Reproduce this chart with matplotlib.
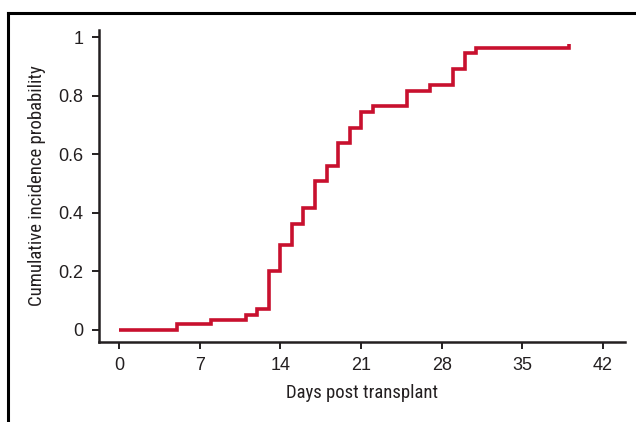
import matplotlib
matplotlib.use("Agg")
import matplotlib.pyplot as plt
from matplotlib import font_manager
from matplotlib.lines import Line2D

# Data (step changes in cumulative incidence)
days = [0, 5, 8, 11, 12, 13, 14, 15, 16, 17, 18, 19, 20, 21, 22, 25, 27, 29, 30, 31, 39]
cum_inc = [0.0, 0.019, 0.034, 0.052, 0.072, 0.200, 0.289, 0.362, 0.416, 0.510, 0.561,
           0.637, 0.690, 0.743, 0.765, 0.817, 0.835, 0.890, 0.945, 0.962, 0.976]
x_ticks = [0, 7, 14, 21, 28, 35, 42]
y_ticks = [0, 0.2, 0.4, 0.6, 0.8, 1.0]
y_ticklabels = ["0", "0.2", "0.4", "0.6", "0.8", "1"]

names = {f.name for f in font_manager.fontManager.ttflist}
tick_font = "Liberation Sans" if "Liberation Sans" in names else "DejaVu Sans"
label_font = None
for cand in ["Liberation Sans Narrow", "Roboto Condensed", "DejaVu Sans Condensed"]:
    if cand in names:
        label_font = cand
        break
if label_font is None:
    label_font = tick_font
plt.rcParams["font.family"] = [tick_font, "DejaVu Sans"]

W, H = 636, 422
fig = plt.figure(figsize=(W / 100, H / 100), dpi=100)
ax = fig.add_axes([99 / W, (H - 342) / H, (625 - 99) / W, (342 - 30) / H])

dark = "#231f20"
red = "#c8102e"

ax.step(days, cum_inc, where="post", color=red, lw=2.6, solid_capstyle="butt",
        solid_joinstyle="miter")

ax.set_xlim(-1.74, 43.9)
ax.set_ylim(-0.041, 1.024)
ax.set_xticks(x_ticks)
ax.set_yticks(y_ticks)
ax.set_yticklabels(y_ticklabels)

for s in ["top", "right"]:
    ax.spines[s].set_visible(False)
for s in ["left", "bottom"]:
    ax.spines[s].set_color(dark)
    ax.spines[s].set_linewidth(1.8)

ax.tick_params(axis="both", direction="out", length=5, width=1.4, color=dark,
               labelcolor=dark, labelsize=13, pad=6)

ax.set_xlabel("Days post transplant", fontsize=13.5, family=label_font, color=dark, labelpad=7)
ax.set_ylabel("Cumulative incidence probability", fontsize=13.5, family=label_font, color=dark, labelpad=9)

# outer frame (top and left edges)
fig.add_artist(Line2D([8 / W, 1.0], [1 - 13 / H, 1 - 13 / H], transform=fig.transFigure,
                      color="black", lw=2.2))
fig.add_artist(Line2D([8 / W, 8 / W], [1 - 13 / H, 0.0], transform=fig.transFigure,
                      color="black", lw=2.2))

fig.savefig("out.png", dpi=100)
